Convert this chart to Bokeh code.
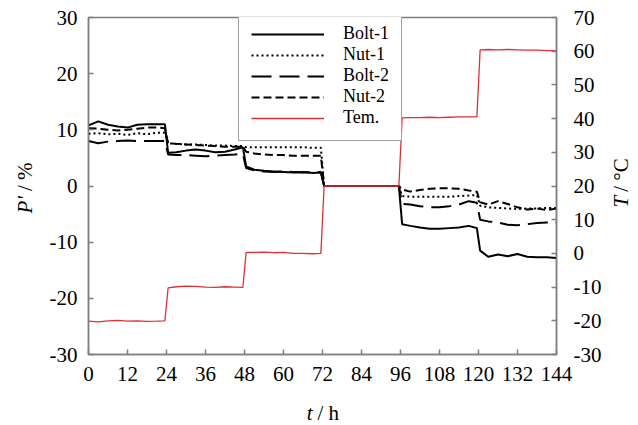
from math import pi
from bokeh.plotting import figure
from bokeh.models import Range1d, LinearAxis, Label, Legend, LegendItem, FixedTicker
from bokeh.embed import file_html
from bokeh.resources import INLINE

# ---------------- data ----------------
t_h = [0, 3, 6, 9, 12, 15, 18, 21, 23.5,
       24.5, 27, 30, 33, 36, 39, 42, 45, 47.5,
       48.5, 51, 54, 57, 60, 63, 66, 69, 71.5,
       72.5, 75, 78, 81, 84, 87, 90, 93, 95.5,
       96.5, 99, 102, 105, 108, 111, 114, 117, 119.5,
       120.5, 123, 126, 129, 132, 135, 138, 141, 144]

bolt1 = [10.8, 11.5, 10.9, 10.6, 10.4, 10.9, 11.0, 11.0, 11.0,
         5.9, 6.0, 6.3, 6.5, 6.3, 6.0, 6.1, 6.5, 6.9,
         3.5, 2.9, 2.7, 2.6, 2.5, 2.4, 2.5, 2.3, 2.4,
         0, 0, 0, 0, 0, 0, 0, 0, 0,
         -6.8, -7.1, -7.4, -7.6, -7.6, -7.5, -7.4, -7.1, -7.5,
         -11.5, -12.6, -12.2, -12.5, -12.1, -12.6, -12.7, -12.7, -12.8]

nut1 = [9.3, 9.4, 9.2, 9.3, 9.1, 9.4, 9.2, 9.5, 9.5,
        7.6, 7.5, 7.4, 7.4, 7.3, 7.2, 7.2, 7.1, 7.1,
        6.9, 6.9, 6.9, 6.9, 6.9, 6.9, 6.9, 6.8, 6.8,
        0, 0, 0, 0, 0, 0, 0, 0, 0,
        -1.8, -1.9, -1.9, -1.9, -1.9, -1.9, -1.8, -1.7, -1.6,
        -3.5, -3.8, -3.9, -4.0, -4.1, -4.0, -4.0, -3.9, -3.9]

bolt2 = [8.0, 7.6, 7.9, 8.0, 8.1, 8.0, 8.0, 8.0, 8.0,
         5.6, 5.5, 5.5, 5.4, 5.3, 5.4, 5.5, 5.6, 5.7,
         3.2, 2.8, 2.6, 2.5, 2.6, 2.5, 2.4, 2.5, 2.5,
         0, 0, 0, 0, 0, 0, 0, 0, 0,
         -3.2, -3.3, -3.6, -3.8, -3.8, -3.6, -3.3, -2.7, -3.0,
         -6.0, -6.3, -6.5, -6.9, -7.0, -6.8, -6.6, -6.5, -6.5]

nut2 = [10.3, 10.2, 10.0, 9.9, 10.0, 10.2, 10.4, 10.4, 10.3,
        7.6, 7.5, 7.4, 7.3, 7.2, 7.1, 7.0, 7.0, 7.0,
        6.1, 5.8, 5.6, 5.5, 5.5, 5.4, 5.4, 5.4, 5.4,
        0, 0, 0, 0, 0, 0, 0, 0, 0,
        -0.6, -1.0, -0.7, -0.5, -0.4, -0.4, -0.5, -0.8, -1.0,
        -2.9, -3.3, -2.7, -3.2, -3.8, -4.2, -4.0, -4.3, -4.0]

tem = [-20.1, -20.3, -20.0, -19.9, -20.1, -20.0, -20.2, -20.1, -20.0,
       -10.2, -9.9, -9.7, -9.8, -10.0, -10.1, -9.9, -10.0, -10.1,
       0.3, 0.3, 0.4, 0.2, 0.3, 0.0, 0.0, -0.1, 0.0,
       20.0, 20.0, 20.0, 20.0, 20.0, 20.0, 20.0, 20.0, 20.0,
       40.2, 40.3, 40.3, 40.4, 40.3, 40.4, 40.5, 40.5, 40.5,
       60.4, 60.5, 60.4, 60.5, 60.4, 60.3, 60.3, 60.2, 60.2]

x_ticks = [0, 12, 24, 36, 48, 60, 72, 84, 96, 108, 120, 132, 144]
p_ticks = [-30, -20, -10, 0, 10, 20, 30]
temp_ticks = [-30, -20, -10, 0, 10, 20, 30, 40, 50, 60, 70]
series_names = ["Bolt-1", "Nut-1", "Bolt-2", "Nut-2", "Tem."]

# ---------------- figure ----------------
FONT = "Liberation Serif"
FS = "21px"
AXC = "#7f7f7f"

p = figure(width=638, height=425, output_backend="svg", toolbar_location=None,
           x_range=Range1d(0, 144), y_range=Range1d(-30, 30),
           min_border_left=88, min_border_right=82, min_border_top=17,
           min_border_bottom=71)
p.extra_y_ranges = {"temp": Range1d(-30, 70)}
p.xgrid.visible = False
p.ygrid.visible = False
p.outline_line_color = AXC
p.outline_line_width = 1.5
p.background_fill_color = "white"
p.border_fill_color = "white"


def style_axis(ax, ticks, standoff):
    ax.ticker = FixedTicker(ticks=ticks)
    ax.major_label_overrides = {v: str(v) for v in ticks}
    ax.axis_line_color = AXC
    ax.axis_line_width = 1.5
    ax.major_tick_line_color = AXC
    ax.major_tick_line_width = 1.5
    ax.major_tick_in = 5
    ax.major_tick_out = 0
    ax.minor_tick_line_color = None
    ax.major_label_text_font = FONT
    ax.major_label_text_font_size = FS
    ax.major_label_text_color = "black"
    ax.major_label_standoff = standoff


style_axis(p.xaxis[0], x_ticks, 12)
style_axis(p.yaxis[0], p_ticks, 11)
rax = LinearAxis(y_range_name="temp")
style_axis(rax, temp_ticks, 17)
p.add_layout(rax, "right")

r1 = p.line(t_h, bolt1, line_color="black", line_width=2)
r2 = p.line(t_h, nut1, line_color="black", line_width=2, line_dash="2 3")
r3 = p.line(t_h, bolt2, line_color="black", line_width=2, line_dash="20 8")
r4 = p.line(t_h, nut2, line_color="black", line_width=2, line_dash="8 4")
r5 = p.line(t_h, tem, line_color="#e03036", line_width=1.3, y_range_name="temp")

legend = Legend(items=[LegendItem(label=n, renderers=[r]) for n, r in
                       zip(series_names, [r1, r2, r3, r4, r5])],
                location=(150, 213), margin=0, padding=12, spacing=0,
                label_height=20, glyph_height=20, glyph_width=73,
                label_standoff=19, label_text_font=FONT,
                label_text_font_size="18px", label_text_color="black",
                border_line_color="#444444",
                border_line_width=1, background_fill_alpha=1.0)
p.add_layout(legend)


def lab(side, x, y, text, italic=False, align="left", angle=0.0, xo=0, yo=0):
    # axis titles live in the side panels (data-positioned) so they are not clipped
    p.add_layout(Label(x=x, y=y, text=text, text_font=FONT, text_font_size=FS,
                       text_font_style="italic" if italic else "normal",
                       text_align=align, text_baseline="middle", angle=angle,
                       x_offset=xo, y_offset=yo, text_color="black"), side)


# x axis title  t / h
lab("right", 72, -40.5, "t", italic=True, align="right", xo=-10)
lab("left", 72, -40.5, "/ h", align="left", xo=-5)
# left title  P' / %
lab("left", -19.4, -1.8, "P'", italic=True, align="right", angle=pi / 2)
lab("below", -19.4, -1.8, "/ %", align="left", angle=pi / 2, yo=5)
# right title  T / °C
lab("above", 163.7, -1.75, "T", italic=True, align="right", angle=pi / 2)
lab("right", 163.7, -1.75, "/ °C", align="left", angle=pi / 2, yo=4)

open("out.html", "w").write(file_html(p, INLINE))
